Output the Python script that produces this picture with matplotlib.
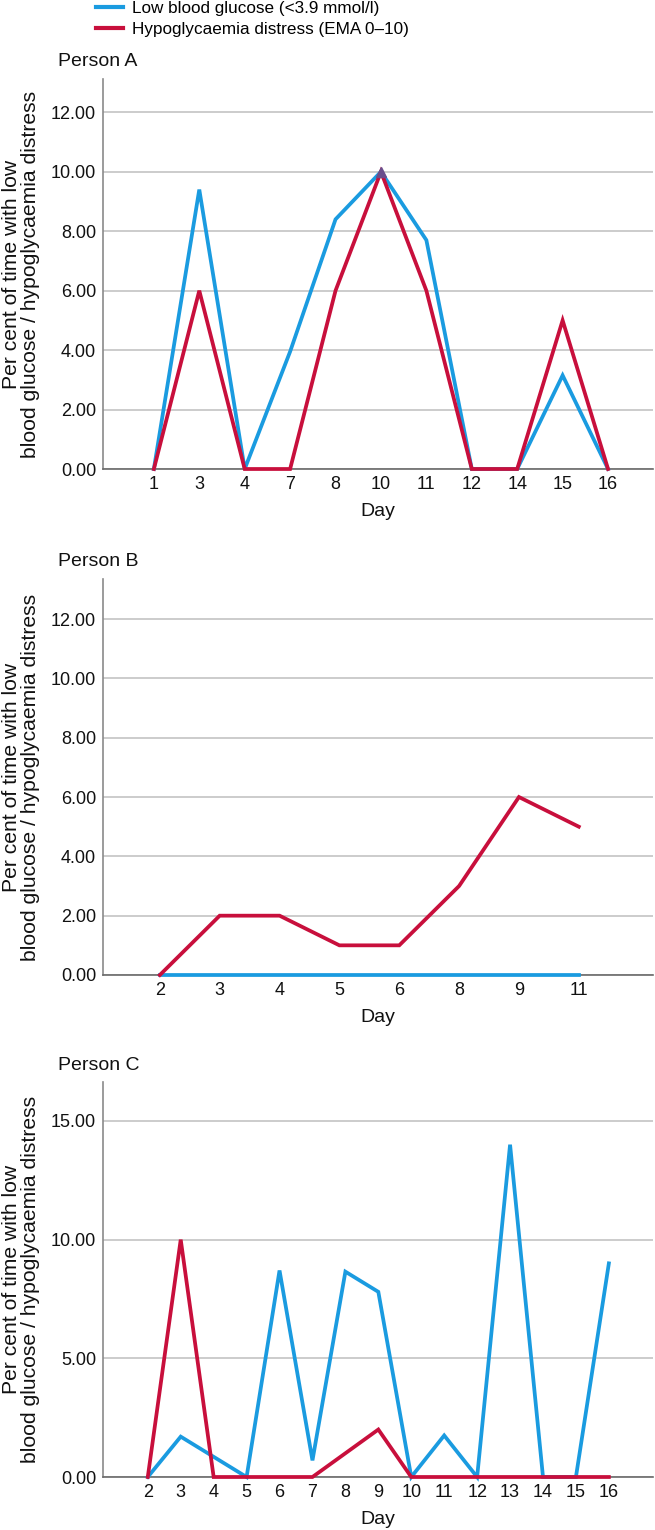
import matplotlib
matplotlib.use("Agg")
import matplotlib.pyplot as plt
from matplotlib.lines import Line2D

plt.rcParams['font.family'] = ['Liberation Sans', 'DejaVu Sans']

BLUE = "#1a9be0"
RED = "#c80f3c"

# Person A
days_a = ["1", "3", "4", "7", "8", "10", "11", "12", "14", "15", "16"]
glucose_a = [0, 9.4, 0, 3.95, 8.4, 10.0, 7.7, 0, 0, 3.15, 0]
distress_a = [0, 6, 0, 0, 6, 10, 6, 0, 0, 5, 0]

# Person B
days_b = ["2", "3", "4", "5", "6", "8", "9", "11"]
glucose_b = [0, 0, 0, 0, 0, 0, 0, 0]
distress_b = [0, 2, 2, 1, 1, 3, 6, 5]

# Person C
days_c = ["2", "3", "4", "5", "6", "7", "8", "9", "10", "11", "12", "13", "14", "15", "16"]
glucose_c = [0, 1.7, 0.85, 0, 8.7, 0.7, 8.65, 7.8, 0, 1.75, 0, 14.0, 0, 0, 9.0]
distress_c = [0, 10, 0, 0, 0, 0, 1, 2, 0, 0, 0, 0, 0, 0, 0]

yticks_ab = [0, 2, 4, 6, 8, 10, 12]
yticks_c = [0, 5, 10, 15]

W, H = 655, 1530
fig = plt.figure(figsize=(W / 100, H / 100), dpi=100)


def px_axes(left, top, right, bottom):
    return fig.add_axes([left / W, 1 - bottom / H, (right - left) / W, (bottom - top) / H])


panels = [
    ("Person A", days_a, glucose_a, distress_a, yticks_ab, (79, 469), 13.12, (-1.12, 0.99)),
    ("Person B", days_b, glucose_b, distress_b, yticks_ab, (579, 975), 13.35, (-0.95, 1.24)),
    ("Person C", days_c, glucose_c, distress_c, yticks_c, (1082, 1477), 16.64, (-1.36, 1.34)),
]

FS = 13
for title, days, glu, dis, yt, (top, bottom), ymax, (xl, xr) in panels:
    ax = px_axes(103, top, 653, bottom)
    x = list(range(len(days)))
    ax.plot(x, glu, color=BLUE, lw=2.7, solid_joinstyle="miter", zorder=3, clip_on=False)
    ax.plot(x, dis, color=RED, lw=2.7, solid_joinstyle="miter", zorder=4, clip_on=False)
    # overlap marker where both series peak together
    both = [i for i in x if glu[i] == dis[i] and glu[i] > 0]
    if both:
        ax.plot(both, [glu[i] for i in both], marker="^", ms=7, color="#6a4e8c",
                lw=0, zorder=5, clip_on=False)
    ax.set_xlim(xl, len(days) - 1 + xr)
    ax.set_ylim(0, ymax)
    ax.set_xticks(x)
    ax.set_xticklabels(days, fontsize=FS)
    ax.set_yticks(yt)
    ax.set_yticklabels([f"{v:.2f}" for v in yt], fontsize=FS)
    ax.tick_params(axis="x", length=0, pad=5, colors="#111111")
    ax.tick_params(axis="y", length=0, pad=5, colors="#111111")
    ax.grid(axis="y", color="#c4c4c4", lw=1.2, zorder=0)
    ax.set_axisbelow(True)
    for s in ("top", "right"):
        ax.spines[s].set_visible(False)
    ax.spines["left"].set_color("#8a8a8a")
    ax.spines["bottom"].set_color("#6a6a6a")
    ax.spines["left"].set_linewidth(1.2)
    ax.spines["bottom"].set_linewidth(1.2)
    ax.set_xlabel("Day", fontsize=14, labelpad=7, color="#111111")
    fig.text(58 / W, 1 - (top - 17) / H, title, fontsize=14, ha="left", va="center", color="#111111")
    fig.text(21 / W, 1 - ((top + bottom) / 2) / H,
             "Per cent of time with low\nblood glucose / hypoglycaemia distress",
             rotation=90, ha="center", va="center", multialignment="center",
             fontsize=15.2, linespacing=1.05, color="#111111")

handles = [Line2D([], [], color=BLUE, lw=3), Line2D([], [], color=RED, lw=3)]
fig.legend(handles, ["Low blood glucose (<3.9 mmol/l)", "Hypoglycaemia distress (EMA 0\u201310)"],
           loc="upper left", bbox_to_anchor=(96 / W, 1 - 1 / H), frameon=False,
           fontsize=12.3, handlelength=1.6, handletextpad=0.5, labelspacing=0.35,
           borderaxespad=0, borderpad=0)

fig.savefig("out.png", dpi=100)
